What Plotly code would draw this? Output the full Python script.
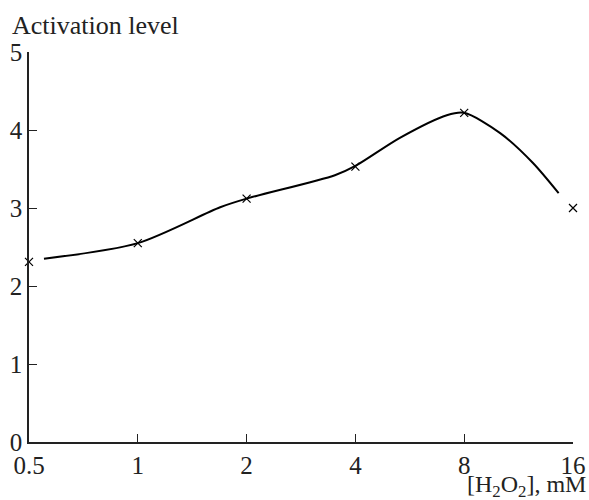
import plotly.graph_objects as go

# Measured points
conc = [0.5, 1, 2, 4, 8, 16]
activation = [2.31, 2.55, 3.12, 3.53, 4.22, 3.0]

# Smooth fitted curve
curve_conc = [0.55, 1.0, 1.69, 2.0, 3.51, 4.0, 5.31, 7.16, 8.0, 10.06, 12.38, 14.6]
curve_act = [2.35, 2.55, 3.01, 3.12, 3.42, 3.54, 3.90, 4.19, 4.22, 3.96, 3.58, 3.19]

tick_vals = [0.5, 1, 2, 4, 8, 16]
tick_text = ["0.5", "1", "2", "4", "8", "16"]
y_ticks = [0, 1, 2, 3, 4, 5]

font_family = "Liberation Serif, Times New Roman, serif"

fig = go.Figure()
fig.add_trace(go.Scatter(
    x=curve_conc, y=curve_act, mode="lines",
    line=dict(color="black", width=2, shape="spline", smoothing=0.8),
    hoverinfo="skip", showlegend=False))
fig.add_trace(go.Scatter(
    x=conc, y=activation, mode="markers",
    marker=dict(symbol="x-thin", size=8, color="black",
                line=dict(color="black", width=1.2)),
    showlegend=False, cliponaxis=False))

fig.update_layout(
    width=589, height=500,
    margin=dict(l=29, r=16, t=52, b=58, autoexpand=False),
    paper_bgcolor="white", plot_bgcolor="white",
    font=dict(family=font_family, size=24, color="#222"),
    xaxis=dict(type="log", range=[-0.30103, 1.20412], automargin=False,
               tickvals=tick_vals, ticktext=tick_text,
               ticks="inside", ticklen=8, tickcolor="#222", tickwidth=1.3,
               showline=True, linecolor="#222", linewidth=1.5,
               showgrid=False, zeroline=False, tickfont=dict(size=25)),
    yaxis=dict(range=[0, 5], tickvals=y_ticks, automargin=False,
               ticks="inside", ticklen=8, tickcolor="#222", tickwidth=1.3,
               showline=True, linecolor="#222", linewidth=1.5,
               showgrid=False, zeroline=False, tickfont=dict(size=25),
               ticklabelstandoff=0),
    annotations=[
        dict(text="Activation level", xref="paper", yref="paper",
             x=-29/544, y=1 + 52/390, xanchor="left", yanchor="top",
             xshift=10, yshift=-9, showarrow=False,
             font=dict(size=26, family=font_family, color="#222")),
        dict(text="[H<sub>2</sub>O<sub>2</sub>], mM", xref="paper", yref="paper",
             x=1, y=0, xanchor="right", yanchor="top",
             xshift=15, yshift=-27, showarrow=False,
             font=dict(size=24, family=font_family, color="#222")),
    ],
)

fig.write_html("out.html", config={"displayModeBar": False},
               post_script="document.body.style.margin='0';document.body.style.overflow='hidden';")
